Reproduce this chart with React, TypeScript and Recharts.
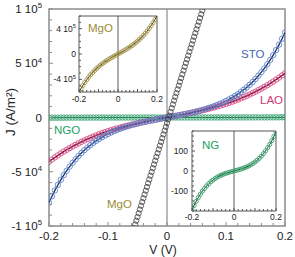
import React from "react";
import { LineChart, Line, XAxis, YAxis, ReferenceArea, ReferenceLine } from "recharts";

const FONT = '"Liberation Sans", Arial, Helvetica, sans-serif';

// bias voltage (V), 5 mV steps
const voltages = [
  -0.2, -0.195, -0.19, -0.185, -0.18, -0.175, -0.17, -0.165, -0.16, -0.155, -0.15, -0.145, -0.14, -0.135,
  -0.13, -0.125, -0.12, -0.115, -0.11, -0.105, -0.1, -0.095, -0.09, -0.085, -0.08, -0.075, -0.07, -0.065,
  -0.06, -0.055, -0.05, -0.045, -0.04, -0.035, -0.03, -0.025, -0.02, -0.015, -0.01, -0.005, 0, 0.005, 0.01,
  0.015, 0.02, 0.025, 0.03, 0.035, 0.04, 0.045, 0.05, 0.055, 0.06, 0.065, 0.07, 0.075, 0.08, 0.085, 0.09,
  0.095, 0.1, 0.105, 0.11, 0.115, 0.12, 0.125, 0.13, 0.135, 0.14, 0.145, 0.15, 0.155, 0.16, 0.165, 0.17,
  0.175, 0.18, 0.185, 0.19, 0.195, 0.2,
];

// current density (A/m^2)
const stoJ = [
  -78400, -72604, -67199, -62161, -57471, -53106, -49048, -45275, -41772, -38521, -35503, -32706, -30113,
  -27710, -25486, -23425, -21518, -19752, -18117, -16602, -15200, -13900, -12694, -11574, -10533, -9564,
  -8661, -7817, -7026, -6284, -5584, -4923, -4295, -3697, -3123, -2571, -2036, -1515, -1005, -501, 0, 501,
  1005, 1515, 2036, 2571, 3123, 3697, 4295, 4923, 5584, 6284, 7026, 7817, 8661, 9564, 10533, 11574, 12694,
  13900, 15200, 16602, 18117, 19752, 21518, 23425, 25486, 27710, 30113, 32706, 35503, 38521, 41772, 45275,
  49048, 53106, 57471, 62161, 67199, 72604, 78400,
];

const laoJ = [
  -40800, -38779, -36833, -34962, -33163, -31434, -29774, -28180, -26650, -25182, -23775, -22426, -21134,
  -19897, -18712, -17578, -16493, -15454, -14461, -13510, -12600, -11729, -10895, -10097, -9331, -8597,
  -7892, -7214, -6562, -5933, -5325, -4737, -4166, -3611, -3070, -2541, -2021, -1509, -1003, -500, 0, 500,
  1003, 1509, 2021, 2541, 3070, 3611, 4166, 4737, 5325, 5933, 6562, 7214, 7892, 8597, 9331, 10097, 10895,
  11729, 12600, 13510, 14461, 15454, 16493, 17578, 18712, 19897, 21134, 22426, 23775, 25182, 26650, 28180,
  29774, 31434, 33163, 34962, 36833, 38779, 40800,
];

const ngoJ = [
  -195.0, -183.4, -172.3, -161.7, -151.6, -141.9, -132.7, -124.0, -115.7, -107.8, -100.3, -93.2, -86.5,
  -80.2, -74.2, -68.6, -63.2, -58.2, -53.5, -49.1, -45.0, -41.1, -37.5, -34.1, -31.0, -28.0, -25.3, -22.7,
  -20.3, -18.0, -15.9, -14.0, -12.1, -10.4, -8.7, -7.2, -5.6, -4.2, -2.8, -1.4, 0, 1.4, 2.8, 4.2, 5.6, 7.2,
  8.7, 10.4, 12.1, 14.0, 15.9, 18.0, 20.3, 22.7, 25.3, 28.0, 31.0, 34.1, 37.5, 41.1, 45.0, 49.1, 53.5, 58.2,
  63.2, 68.6, 74.2, 80.2, 86.5, 93.2, 100.3, 107.8, 115.7, 124.0, 132.7, 141.9, 151.6, 161.7, 172.3, 183.4,
  195.0,
];

// MgO on the 10 mV grid (inset)
const mgoInsetJ = [
  -600000, -545918, -495540, -448673, -405120, -364688, -327180, -292403, -260160, -230258, -202500,
  -176693, -152640, -130148, -109020, -89063, -70080, -51878, -34260, -17033, 0, 17033, 34260, 51878,
  70080, 89063, 109020, 130148, 152640, 176693, 202500, 230258, 260160, 292403, 327180, 364688, 405120,
  448673, 495540, 545918, 600000,
];

// MgO, fine sweep shown in the main panel
const mgoMainV = [
  -0.058, -0.056, -0.054, -0.052, -0.05, -0.048, -0.046, -0.044, -0.042, -0.04, -0.038, -0.036, -0.034,
  -0.032, -0.03, -0.028, -0.026, -0.024, -0.022, -0.02, -0.018, -0.016, -0.014, -0.012, -0.01, -0.008,
  -0.006, -0.004, -0.002, 0, 0.002, 0.004, 0.006, 0.008, 0.01, 0.012, 0.014, 0.016, 0.018, 0.02, 0.022,
  0.024, 0.026, 0.028, 0.03, 0.032, 0.034, 0.036, 0.038, 0.04, 0.042, 0.044, 0.046, 0.048, 0.05, 0.052,
  0.054, 0.056, 0.058, 0.06, 0.062, 0.064,
];
const mgoMainJ = [
  -105530, -102070, -98610, -95150, -91690, -88230, -84770, -81310, -77850, -74390, -70930, -67470, -64010,
  -60550, -57090, -53630, -50170, -46710, -43250, -39790, -36330, -32870, -29410, -25950, -22490, -19030,
  -15570, -12110, -8650, -5190, -1730, 1730, 5190, 8650, 12110, 15570, 19030, 22490, 25950, 29410, 32870,
  36330, 39790, 43250, 46710, 50170, 53630, 57090, 60550, 64010, 67470, 70930, 74390, 77850, 81310, 84770,
  88230, 91690, 95150, 98610, 102070, 105530,
];

// tick positions
const xTicks = [
  -0.2, -0.18, -0.16, -0.14, -0.12, -0.1, -0.08, -0.06, -0.04, -0.02, 0, 0.02, 0.04, 0.06, 0.08, 0.1, 0.12,
  0.14, 0.16, 0.18, 0.2,
];
const yTicksMain = [
  -100000, -90000, -80000, -70000, -60000, -50000, -40000, -30000, -20000, -10000, 0, 10000, 20000, 30000,
  40000, 50000, 60000, 70000, 80000, 90000, 100000,
];
const yTicksMgo = [-600000, -500000, -400000, -300000, -200000, -100000, 0, 100000, 200000, 300000, 400000, 500000, 600000];
const yTicksNg = [-200, -175, -150, -125, -100, -75, -50, -25, 0, 25, 50, 75, 100, 125, 150, 175, 200];

// tick labels: [value, text, superscript]
const xLabelsMain: [number, string][] = [[-0.2, "-0.2"], [-0.1, "-0.1"], [0, "0"], [0.1, "0.1"], [0.2, "0.2"]];
const xLabelsInset: [number, string][] = [[-0.2, "-0.2"], [0, "0"], [0.2, "0.2"]];
const yLabelsMain: [number, string, string][] = [
  [100000, "1 10", "5"], [50000, "5 10", "4"], [0, "0", ""], [-50000, "-5 10", "4"], [-100000, "-1 10", "5"],
];
const yLabelsMgo: [number, string, string][] = [[400000, "4 10", "5"], [0, "0", ""], [-400000, "-4 10", "5"]];
const yLabelsNg: [number, string, string][] = [[100, "100", ""], [0, "0", ""], [-100, "-100", ""]];

const rows = voltages.map((v, i) => ({ v, sto: stoJ[i], lao: laoJ[i], ngo: ngoJ[i] }));
const insetRows = rows
  .filter((_, i) => i % 2 === 0)
  .map((r, i) => ({ v: r.v, ng: r.ngo, mgo: mgoInsetJ[i] }));
const mgoRows = mgoMainV.map((v, i) => ({ v, mgo: mgoMainJ[i] }));

const near = (a: number, b: number) => Math.abs(a - b) < 1e-9;

function xTick(labels: [number, string][], fs: number, dy: number, len: [number, number], stroke: string) {
  return (props: any) => {
    const { x, y, payload } = props;
    const lab = labels.find((l) => near(l[0], payload.value));
    const major = Math.abs(payload.value * 10 - Math.round(payload.value * 10)) < 1e-6;
    return (
      <g>
        <line x1={x} x2={x} y1={y} y2={y - (major ? len[0] : len[1])} stroke={stroke} strokeWidth={1} />
        {lab && (
          <text x={x} y={y + dy} textAnchor="middle" fontSize={fs} fill="#222">
            {lab[1]}
          </text>
        )}
      </g>
    );
  };
}

function yTick(labels: [number, string, string][], fs: number, gap: number, len: [number, number], stroke: string) {
  return (props: any) => {
    const { x, y, payload } = props;
    const lab = labels.find((l) => near(l[0], payload.value));
    return (
      <g>
        <line x1={x} x2={x + (lab ? len[0] : len[1])} y1={y} y2={y} stroke={stroke} strokeWidth={1} />
        {lab && (
          <text x={x - gap} y={y + fs * 0.36} textAnchor="end" fontSize={fs} fill="#222">
            {lab[1]}
            {lab[2] && (
              <tspan dy={-fs * 0.42} fontSize={fs * 0.68}>
                {lab[2]}
              </tspan>
            )}
          </text>
        )}
      </g>
    );
  };
}

const openDot = (color: string, r: number, w = 0.9) => ({ r, stroke: color, strokeWidth: w, fill: "none" });

export default function App() {
  return (
    <div
      style={{
        position: "fixed",
        left: 0,
        top: 0,
        width: 295,
        height: 257,
        background: "#fff",
        fontFamily: FONT,
        overflow: "hidden",
      }}
    >
      <div style={{ position: "absolute", left: 0, top: 0 }}>
        <LineChart width={295} height={257} margin={{ top: 9, right: 10, bottom: 0, left: 0 }}>
          <XAxis
            type="number"
            dataKey="v"
            domain={[-0.2, 0.2]}
            ticks={xTicks}
            interval={0}
            allowDataOverflow
            height={31}
            tickSize={0}
            tickMargin={0}
            axisLine={false}
            tickLine={false}
            tick={xTick(xLabelsMain, 11.5, 14, [4, 3], "#8c8c8c")}
          />
          <YAxis
            type="number"
            domain={[-100000, 100000]}
            ticks={yTicksMain}
            interval={0}
            allowDataOverflow
            width={49}
            tickSize={0}
            tickMargin={0}
            axisLine={false}
            tickLine={false}
            tick={yTick(yLabelsMain, 11.5, 7, [4, 3], "#8c8c8c")}
          />
          <ReferenceArea x1={-0.2} x2={0.2} y1={-100000} y2={100000} fill="none" stroke="#8c8c8c" strokeWidth={1.5} />
          <ReferenceLine x={0} stroke="#8c8c8c" strokeWidth={1.2} />
          <ReferenceLine y={0} stroke="#8c8c8c" strokeWidth={1} />

          <Line data={rows} dataKey="ngo" stroke="#1d6b45" strokeWidth={1} dot={openDot("#3aa673", 2.7)} activeDot={false} isAnimationActive={false} />
          <Line data={rows} dataKey="lao" stroke="none" dot={openDot("#df4a86", 2.7)} activeDot={false} isAnimationActive={false} />
          <Line data={rows} dataKey="lao" type="monotone" stroke="#2b0a1c" strokeWidth={1.3} dot={false} activeDot={false} isAnimationActive={false} />
          <Line data={rows} dataKey="sto" stroke="none" dot={openDot("#5b82c8", 2.7)} activeDot={false} isAnimationActive={false} />
          <Line data={rows} dataKey="sto" type="monotone" stroke="#1c2b5c" strokeWidth={1.3} dot={false} activeDot={false} isAnimationActive={false} />
          <Line data={mgoRows} dataKey="mgo" stroke="none" dot={openDot("#3c3c3c", 2.6, 0.8)} activeDot={false} isAnimationActive={false} />
        </LineChart>
      </div>

      {/* MgO inset: plot box x 79-157, y 16-92 */}
      <div style={{ position: "absolute", left: 45, top: 10 }}>
        <LineChart width={120} height={100} margin={{ top: 6, right: 8, bottom: 4, left: 4 }}>
          <XAxis
            type="number"
            dataKey="v"
            domain={[-0.2, 0.2]}
            ticks={xTicks}
            interval={0}
            allowDataOverflow
            height={14}
            tickSize={0}
            tickMargin={0}
            axisLine={false}
            tickLine={false}
            tick={xTick(xLabelsInset, 8.5, 10, [3, 2], "#555")}
          />
          <YAxis
            type="number"
            domain={[-600000, 600000]}
            ticks={yTicksMgo}
            interval={0}
            allowDataOverflow
            width={30}
            tickSize={0}
            tickMargin={0}
            axisLine={false}
            tickLine={false}
            tick={yTick(yLabelsMgo, 8.5, 3, [3, 2], "#555")}
          />
          <ReferenceArea x1={-0.2} x2={0.2} y1={-600000} y2={600000} fill="none" stroke="#555" strokeWidth={1} />
          <ReferenceLine x={0} stroke="#333" strokeWidth={0.8} />
          <Line data={insetRows} dataKey="mgo" stroke="none" dot={openDot("#a8994a", 2.1)} activeDot={false} isAnimationActive={false} />
          <Line data={insetRows} dataKey="mgo" type="monotone" stroke="#1a1a1a" strokeWidth={1} dot={false} activeDot={false} isAnimationActive={false} />
        </LineChart>
      </div>

      {/* NG inset: plot box x 192-276, y 131-211 */}
      <div style={{ position: "absolute", left: 160, top: 125 }}>
        <LineChart width={130} height={100} margin={{ top: 6, right: 14, bottom: 2, left: 2 }}>
          <XAxis
            type="number"
            dataKey="v"
            domain={[-0.2, 0.2]}
            ticks={xTicks}
            interval={0}
            allowDataOverflow
            height={12}
            tickSize={0}
            tickMargin={0}
            axisLine={false}
            tickLine={false}
            tick={xTick(xLabelsInset, 8.5, 9, [3, 2], "#555")}
          />
          <YAxis
            type="number"
            domain={[-200, 200]}
            ticks={yTicksNg}
            interval={0}
            allowDataOverflow
            width={30}
            tickSize={0}
            tickMargin={0}
            axisLine={false}
            tickLine={false}
            tick={yTick(yLabelsNg, 8.5, 4, [3, 2], "#555")}
          />
          <ReferenceArea x1={-0.2} x2={0.2} y1={-200} y2={200} fill="none" stroke="#555" strokeWidth={1} />
          <ReferenceLine x={0} stroke="#333" strokeWidth={0.8} />
          <Line data={insetRows} dataKey="ng" stroke="none" dot={openDot("#3c9f6e", 2.1)} activeDot={false} isAnimationActive={false} />
          <Line data={insetRows} dataKey="ng" type="monotone" stroke="#0f3f22" strokeWidth={1} dot={false} activeDot={false} isAnimationActive={false} />
        </LineChart>
      </div>

      <svg width={295} height={257} style={{ position: "absolute", left: 0, top: 0, pointerEvents: "none" }}>
        <text x={241} y={58} fontSize={11.5} fill="#3e65b3">STO</text>
        <text x={260} y={104} fontSize={11.5} fill="#d0386f">LAO</text>
        <text x={54} y={134} fontSize={11.5} fill="#23a064">NGO</text>
        <text x={107} y={208} fontSize={11.5} fill="#9c8c34">MgO</text>
        <text x={88} y={32} fontSize={11.5} fill="#9c8c34">MgO</text>
        <text x={202} y={148.5} fontSize={11.5} fill="#23a064">NG</text>
        <text x={163} y={254} fontSize={12} fill="#222" textAnchor="middle">V (V)</text>
        <text x={0} y={0} fontSize={13.5} fill="#222" textAnchor="middle" transform="translate(15 112) rotate(-90)">
          J (A/m²)
        </text>
      </svg>
    </div>
  );
}
